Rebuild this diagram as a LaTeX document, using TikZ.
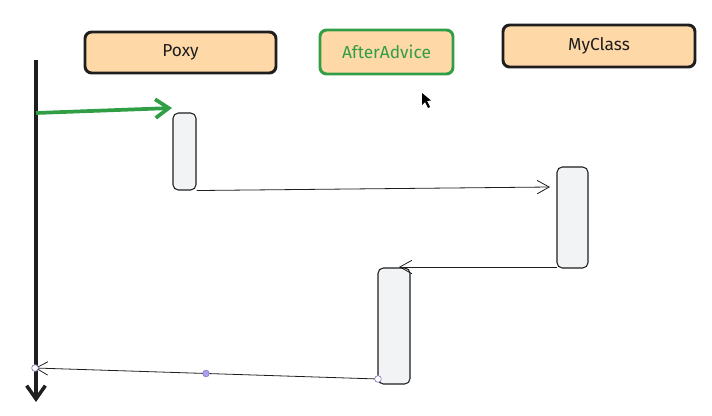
\documentclass[tikz,border=0pt]{standalone}
\usepackage{fontspec}
\setsansfont{Fira Sans}
\usetikzlibrary{arrows.meta}
\definecolor{peach}{RGB}{255,216,168}
\definecolor{advgreen}{RGB}{47,158,68}
\definecolor{ink}{RGB}{30,30,30}
\definecolor{actfill}{RGB}{241,243,245}
\definecolor{handle}{RGB}{170,160,240}
\tikzset{
  classbox/.style={draw=ink,line width=2.2pt,fill=peach,rounded corners=5pt,inner sep=0pt,font=\sffamily\fontsize{13}{15}\selectfont,text=ink},
  actbox/.style={draw=ink,line width=0.8pt,fill=actfill,rounded corners=4pt,inner sep=0pt},
  msg/.style={draw=ink,line width=0.6pt,-{Straight Barb[length=9pt,width=10pt]}},
  handledot/.style={circle,draw=handle!80!black,fill=#1,line width=0.5pt,inner sep=0pt,minimum size=5pt}
}
\begin{document}
\begin{tikzpicture}[x=0.75pt,y=0.75pt,yscale=-1,xscale=1]
\useasboundingbox (0,0) rectangle (712,416);

% class headers
\node[classbox,minimum width=143.25pt,minimum height=30.75pt] (poxy) at (180.5,52.5) {Poxy};
\node[classbox,draw=advgreen,text=advgreen,minimum width=99.75pt,minimum height=33pt] (advice) at (386.5,52) {AfterAdvice};
\node[classbox,minimum width=144pt,minimum height=31.5pt] (myclass) at (599,46) {MyClass};

% activation bars
\node[actbox,minimum width=17.25pt,minimum height=57.75pt] (act1) at (184.5,151.5) {};
\node[actbox,minimum width=23.25pt,minimum height=75.75pt] (act2) at (572.5,217.5) {};
\node[actbox,minimum width=24pt,minimum height=87pt] (act3) at (394,326) {};

% caller lifeline
\coordinate (top) at (36,60);
\coordinate (bot) at (36,402);
\draw[ink,line width=2.6pt,-{Straight Barb[length=10pt,width=14pt,line width=2.6pt]}] (top) -- (bot);

% call into proxy
\coordinate (callin) at (36,113);
\coordinate (callend) at (172,108);
\draw[advgreen,line width=2.8pt,-{Straight Barb[length=10pt,width=14pt,line width=2.8pt]}] (callin) -- (callend);

% messages
\coordinate (m1end) at (550,187);
\draw[msg] (act1.south east) -- (m1end);
\coordinate (m2start) at (557,267);
\coordinate (m2end) at (399,267);
\draw[msg] (m2start) -- (m2end);
\coordinate (m3start) at (378,379);
\coordinate (m3end) at (35,368);
\draw[msg] (m3start) -- (m3end);

% selection handles
\node[handledot=white] (h1) at (m3end) {};
\node[handledot=handle] (h2) at (206,373.5) {};
\node[handledot=white] (h3) at (m3start) {};

% cursor
\fill[black] (422,93) -- (422,105) -- (425,102) -- (428,108) -- (430,107) -- (427,101) -- (431,100.5) -- cycle;
\end{tikzpicture}
\end{document}
